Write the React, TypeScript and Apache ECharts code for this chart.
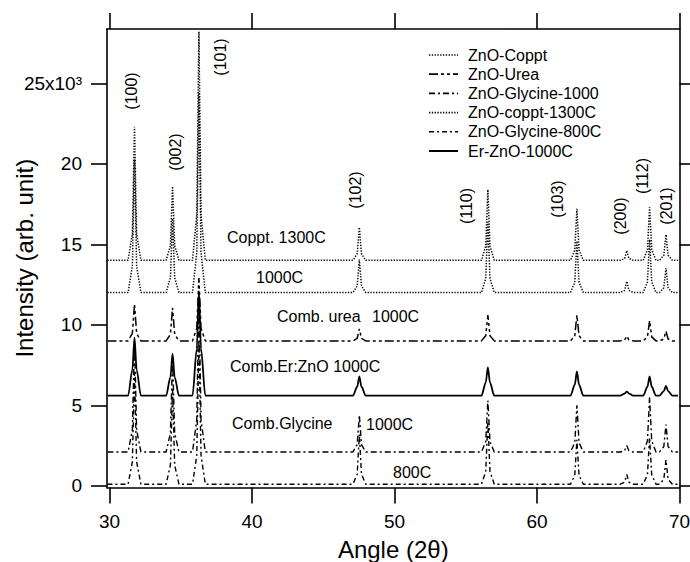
import React, { useEffect, useRef } from "react";
import * as echarts from "echarts";

// Shared 2θ grid (deg): line start, peak feet/shoulders/tops, line end
const ANGLES = [29.85,
  31.30, 31.60, 31.75, 31.90, 32.20,
  33.97, 34.27, 34.42, 34.57, 34.87,
  35.82, 36.12, 36.27, 36.42, 36.72,
  47.08, 47.38, 47.53, 47.68, 47.98,
  56.10, 56.40, 56.55, 56.70, 57.00,
  62.35, 62.65, 62.80, 62.95, 63.25,
  65.85, 66.15, 66.30, 66.45, 66.75,
  67.45, 67.75, 67.90, 68.05, 68.35,
  68.60, 68.90, 69.05, 69.20, 69.50,
  69.90];

// Intensities (x10^3, offset)
const COPPT_1000 = [12,
  12, 13.66, 20.3, 13.66, 12,
  12, 12.92, 16.6, 12.92, 12,
  12, 14.48, 24.4, 14.48, 12,
  12, 12.41, 14.05, 12.41, 12,
  12, 12.88, 16.4, 12.88, 12,
  12, 12.64, 15.2, 12.64, 12,
  12, 12.14, 12.7, 12.14, 12,
  12, 12.66, 15.3, 12.66, 12,
  12, 12.3, 13.5, 12.3, 12,
  12];
const UREA = [9,
  9, 9.46, 11.3, 9.46, 9,
  9, 9.41, 11.05, 9.41, 9,
  9, 9.78, 12.9, 9.78, 9,
  9, 9.15, 9.75, 9.15, 9,
  9, 9.32, 10.6, 9.32, 9,
  9, 9.32, 10.6, 9.32, 9,
  9, 9.06, 9.3, 9.06, 9,
  9, 9.25, 10.25, 9.25, 9,
  9, 9.12, 9.6, 9.12, 9,
  9];
const GLY_1000 = [2.1,
  2.1, 3.48, 9.0, 3.48, 2.1,
  2.1, 3.28, 8.0, 3.28, 2.1,
  2.1, 4.08, 12.0, 4.08, 2.1,
  2.1, 2.56, 4.4, 2.56, 2.1,
  2.1, 2.74, 5.3, 2.74, 2.1,
  2.1, 2.68, 5.0, 2.68, 2.1,
  2.1, 2.18, 2.5, 2.18, 2.1,
  2.1, 2.78, 5.5, 2.78, 2.1,
  2.1, 2.44, 3.8, 2.44, 2.1,
  2.1];
const COPPT_1300 = [14,
  14, 15.66, 22.3, 15.66, 14,
  14, 14.92, 18.6, 14.92, 14,
  14, 16.84, 28.2, 16.84, 14,
  14, 14.41, 16.05, 14.41, 14,
  14, 14.88, 18.4, 14.88, 14,
  14, 14.64, 17.2, 14.64, 14,
  14, 14.12, 14.6, 14.12, 14,
  14, 14.66, 17.3, 14.66, 14,
  14, 14.32, 15.6, 14.32, 14,
  14];
const GLY_800 = [0.1,
  0.1, 1.48, 7.0, 1.48, 0.1,
  0.1, 1.28, 6.0, 1.28, 0.1,
  0.1, 1.88, 9.0, 1.88, 0.1,
  0.1, 0.72, 3.2, 0.72, 0.1,
  0.1, 0.88, 4.0, 0.88, 0.1,
  0.1, 0.65, 2.85, 0.65, 0.1,
  0.1, 0.22, 0.7, 0.22, 0.1,
  0.1, 0.68, 3.0, 0.68, 0.1,
  0.1, 0.4, 1.6, 0.4, 0.1,
  0.1];
const ER_ZNO = [5.6,
  5.6, 7.2, 9.2, 7.2, 5.6,
  5.6, 6.75, 8.2, 6.75, 5.6,
  5.6, 8.5, 12.1, 8.5, 5.6,
  5.6, 6.15, 6.8, 6.15, 5.6,
  5.6, 6.4, 7.36, 6.4, 5.6,
  5.6, 6.28, 7.1, 6.28, 5.6,
  5.6, 5.73, 5.85, 5.73, 5.6,
  5.6, 6.15, 6.8, 6.15, 5.6,
  5.6, 5.88, 6.2, 5.88, 5.6,
  5.6];

const SERIES_NAMES = ["ZnO-Coppt", "ZnO-Urea", "ZnO-Glycine-1000", "ZnO-coppt-1300C", "ZnO-Glycine-800C", "Er-ZnO-1000C"];
const X_TICKS = [30, 40, 50, 60, 70];
const Y_TICKS = [0, 5, 10, 15, 20, 25];
const PEAK_LABELS = ["(100)", "(002)", "(101)", "(102)", "(110)", "(103)", "(200)", "(112)", "(201)"];

const FONT = "'Liberation Sans', Arial, Helvetica, sans-serif";

export default function App() {
  const ref = useRef<HTMLDivElement>(null);
  useEffect(() => {
    document.body.style.margin = "0";
    const chart = echarts.init(ref.current!, null, { renderer: "svg" });
    const zip = (v: number[]) => ANGLES.map((a, i) => [a, v[i]]);
    const styles: any[] = [
      { type: [1.3, 1.5], width: 1.5 },
      { type: [9, 3, 3, 3, 3, 3], width: 1.5 },
      { type: [6, 3, 2, 3], width: 1.4 },
      { type: [1.3, 1.5], width: 1.5 },
      { type: [5, 3, 2, 3], width: 1.4 },
      { type: "solid", width: 1.8 },
    ];
    const vals = [COPPT_1000, UREA, GLY_1000, COPPT_1300, GLY_800, ER_ZNO];
    const series = SERIES_NAMES.map((name, i) => ({
      name,
      type: "line",
      data: zip(vals[i]),
      symbol: "none",
      showSymbol: false,
      smooth: i === 5 ? 0.3 : false,
      smoothMonotone: "x",
      lineStyle: { color: "#000", width: styles[i].width, type: styles[i].type, cap: "butt" },
      itemStyle: { color: "#000" },
      z: 3,
    }));
    const axisLine = { show: true, onZero: false, lineStyle: { color: "#000", width: 1.6 } };
    const tick = (v: number[]) => ({ show: true, inside: false, length: 16, customValues: v, lineStyle: { color: "#000", width: 1.6 } });
    const peakPos = [
      [131.7, 91], [175, 152], [220, 57], [355.7, 190], [466.7, 206],
      [557.7, 199], [620, 216], [642.7, 176], [666.7, 206],
    ];
    const notes = [
      ["Coppt. 1300C", 227, 237],
      ["1000C", 256, 277],
      ["Comb. urea", 277, 316],
      ["1000C", 372, 316],
      ["Comb.Er:ZnO 1000C", 230, 366],
      ["Comb.Glycine", 232, 423],
      ["1000C", 366, 424],
      ["800C", 393, 472],
    ];
    const legendY = [55, 74.2, 93.4, 112.6, 131.8, 151];
    const graphics: any[] = [
      ...PEAK_LABELS.map((t, i) => ({
        type: "text",
        x: peakPos[i][0],
        y: peakPos[i][1],
        rotation: Math.PI / 2,
        style: { text: t, fontSize: 16, fontFamily: FONT, fill: "#000", align: "center", verticalAlign: "middle" },
        z: 10,
      })),
      ...notes.map((n) => ({
        type: "text",
        x: n[1] as number,
        y: n[2] as number,
        style: { text: n[0] as string, fontSize: 16, fontFamily: FONT, fill: "#000", align: "left", verticalAlign: "middle" },
        z: 10,
      })),
      ...SERIES_NAMES.map((name, i) => ({
        type: "group",
        z: 10,
        children: [
          {
            type: "line",
            shape: { x1: 429, y1: legendY[i], x2: 458, y2: legendY[i] },
            style: {
              stroke: "#000",
              lineWidth: styles[i].width + 0.2,
              lineDash: styles[i].type === "solid" ? null : styles[i].type,
              lineCap: "butt",
            },
          },
          {
            type: "text",
            x: 468,
            y: legendY[i],
            style: { text: name, fontSize: 16, fontFamily: FONT, fill: "#000", align: "left", verticalAlign: "middle" },
          },
        ],
      })),
    ];
    const option: any = {
      animation: false,
      backgroundColor: "#fff",
      grid: { left: 107, right: 10.5, top: 29, bottom: 74.6, containLabel: false, outerBoundsMode: "none" },
      xAxis: [
        {
          type: "value", min: 29.82, max: 70, position: "bottom",
          axisLine, axisTick: tick(X_TICKS), splitLine: { show: false },
          axisLabel: { show: false },
        },
        {
          type: "value", min: 29.82, max: 70, position: "top",
          axisLine, axisTick: tick(X_TICKS), splitLine: { show: false },
          axisLabel: { show: false },
        },
        {
          type: "value", min: 29.82, max: 70, position: "bottom",
          axisLine: { show: false, onZero: false }, axisTick: { show: false }, splitLine: { show: false },
          axisLabel: { customValues: X_TICKS, fontSize: 19, fontFamily: FONT, color: "#000", margin: 25 },
          name: "Angle (2θ)", nameLocation: "middle", nameGap: 50,
          nameTextStyle: { fontSize: 24, fontFamily: FONT, color: "#000" },
        },
      ],
      yAxis: [
        {
          type: "value", min: -0.1, max: 28.37, position: "left",
          axisLine, axisTick: tick(Y_TICKS), splitLine: { show: false },
          axisLabel: {
            customValues: Y_TICKS, fontSize: 19, fontFamily: FONT, color: "#000", margin: 25, align: "right",
            formatter: (v: number) => (v === 25 ? "25x10³" : String(v)),
          },
          name: "Intensity (arb. unit)", nameLocation: "middle", nameGap: 71, nameRotate: 90, nameMoveOverlap: false,
          nameTextStyle: { fontSize: 24, fontFamily: FONT, color: "#000" },
        },
        {
          type: "value", min: -0.1, max: 28.37, position: "right",
          axisLine, axisTick: tick(Y_TICKS), splitLine: { show: false },
          axisLabel: { show: false },
        },
      ],
      series,
      graphic: graphics,
    };
    chart.setOption(option);
    return () => chart.dispose();
  }, []);
  return <div ref={ref} style={{ width: 690, height: 562 }} />;
}
